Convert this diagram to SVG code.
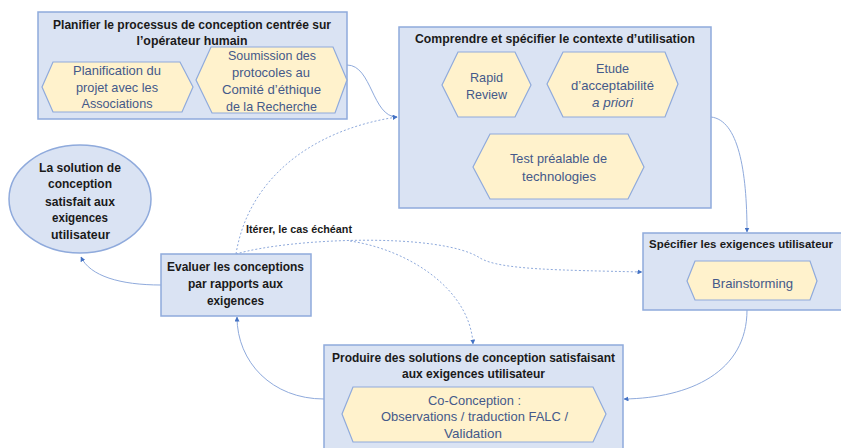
<svg xmlns="http://www.w3.org/2000/svg" width="841" height="448" viewBox="0 0 841 448">
<defs>
<marker id="arr" viewBox="0 0 10 10" refX="9" refY="5" markerWidth="5" markerHeight="5" orient="auto" markerUnits="userSpaceOnUse">
<path d="M0,0 L10,5 L0,10 z" fill="#4472c4"/>
</marker>
</defs>
<style>
.box{fill:#dae3f3;stroke:#8faadc;stroke-width:1.5}
.hex{fill:#fff2cc;stroke:#8faadc;stroke-width:1.2}
.t{font-family:"Liberation Sans",Arial,sans-serif;font-size:13px;font-weight:bold;fill:#1a1a1a;text-anchor:middle}
.h{font-family:"Liberation Sans",Arial,sans-serif;font-size:13.5px;fill:#44598a;text-anchor:middle}
.lbl{font-family:"Liberation Sans",Arial,sans-serif;font-size:11px;font-weight:bold;fill:#1a1a1a}
.c{fill:none;stroke:#8faadc;stroke-width:1}
.d{fill:none;stroke:#8faadc;stroke-width:1;stroke-dasharray:2 2}
</style>
<rect width="841" height="448" fill="#ffffff"/>

<g id="connectors">
<path class="c" d="M347,65 C372,65 372,117 397,117" marker-end="url(#arr)"/>
<path class="c" d="M711,117 C738,120 747,170 747,232" marker-end="url(#arr)"/>
<path class="c" d="M747,310 C747,372 690,398 624,399" marker-end="url(#arr)"/>
<path class="c" d="M324,399 C272,399 237,362 237,317" marker-end="url(#arr)"/>
<path class="c" d="M161,285 C120,285 90,276 81,257" marker-end="url(#arr)"/>
<path class="d" d="M236,254 C248,180 310,130 397,117" marker-end="url(#arr)"/>
<path class="d" d="M236,254 C290,238 440,232 480,258 C500,270 560,270 642,272" marker-end="url(#arr)"/>
<path class="d" d="M350,241 C410,250 470,290 473,344" marker-end="url(#arr)"/>
<text class="lbl" x="246" y="233" textLength="106" lengthAdjust="spacingAndGlyphs">Itérer, le cas échéant</text>
</g>

<g id="planifier">
<rect class="box" x="38" y="12" width="309" height="107"/>
<text class="t" x="192" y="28.5" textLength="278" lengthAdjust="spacingAndGlyphs">Planifier le processus de conception centrée sur</text>
<text class="t" x="192" y="44.5" textLength="111" lengthAdjust="spacingAndGlyphs">l’opérateur humain</text>
<g id="hex-planification">
<polygon class="hex" points="42,87 53,62 180,62 193,87 182,112 53,112"/>
<text class="h" x="117" y="74.5" textLength="88" lengthAdjust="spacingAndGlyphs">Planification du</text>
<text class="h" x="117" y="91.5" textLength="82" lengthAdjust="spacingAndGlyphs">projet avec les</text>
<text class="h" x="117" y="107.5" textLength="71" lengthAdjust="spacingAndGlyphs">Associations</text>
</g>
<g id="hex-soumission">
<polygon class="hex" points="196,80 211,47 333,47 347,80 335,113 212,113"/>
<text class="h" x="272" y="59.5" textLength="88" lengthAdjust="spacingAndGlyphs">Soumission des</text>
<text class="h" x="271" y="76.5" textLength="78" lengthAdjust="spacingAndGlyphs">protocoles au</text>
<text class="h" x="271.5" y="93.5" textLength="99" lengthAdjust="spacingAndGlyphs">Comité d’éthique</text>
<text class="h" x="271.5" y="110.5" textLength="91" lengthAdjust="spacingAndGlyphs">de la Recherche</text>
</g>
</g>

<g id="comprendre">
<rect class="box" x="399" y="27" width="312" height="181"/>
<text class="t" x="555" y="42.5" textLength="280" lengthAdjust="spacingAndGlyphs">Comprendre et spécifier le contexte d’utilisation</text>
<g id="hex-rapid">
<polygon class="hex" points="442,85 458,52 515,52 531,85 515,117 458,117"/>
<text class="h" x="486.5" y="81.5" textLength="33" lengthAdjust="spacingAndGlyphs">Rapid</text>
<text class="h" x="486.5" y="98.5" textLength="41" lengthAdjust="spacingAndGlyphs">Review</text>
</g>
<g id="hex-etude">
<polygon class="hex" points="547,84 563,52 665,52 678,84 665,117 563,117"/>
<text class="h" x="612.5" y="72.5" textLength="33" lengthAdjust="spacingAndGlyphs">Etude</text>
<text class="h" x="612.5" y="89.5" textLength="83" lengthAdjust="spacingAndGlyphs">d’acceptabilité</text>
<text class="h" x="612.5" y="106.5" font-style="italic" textLength="41" lengthAdjust="spacingAndGlyphs">a priori</text>
</g>
<g id="hex-test">
<polygon class="hex" points="473,167 490,134 628,134 644,167 628,199 490,199"/>
<text class="h" x="558.5" y="162.5" textLength="97" lengthAdjust="spacingAndGlyphs">Test préalable de</text>
<text class="h" x="559" y="180.5" textLength="74" lengthAdjust="spacingAndGlyphs">technologies</text>
</g>
</g>

<g id="specifier">
<rect class="box" x="643" y="233" width="220" height="77"/>
<text class="t" x="741" y="248" style="font-size:11px" textLength="184" lengthAdjust="spacingAndGlyphs">Spécifier les exigences utilisateur</text>
<g id="hex-brainstorming">
<polygon class="hex" points="687,281 695,261 810,261 817,281 810,300 695,300"/>
<text class="h" x="752.5" y="287.5" textLength="81" lengthAdjust="spacingAndGlyphs">Brainstorming</text>
</g>
</g>

<g id="produire">
<rect class="box" x="324" y="345" width="299" height="120"/>
<text class="t" x="473.5" y="361.5" textLength="283" lengthAdjust="spacingAndGlyphs">Produire des solutions de conception satisfaisant</text>
<text class="t" x="473.5" y="377.5" textLength="143" lengthAdjust="spacingAndGlyphs">aux exigences utilisateur</text>
<g id="hex-coconception">
<polygon class="hex" points="342,414 353,387 593,387 606,414 593,442 353,442"/>
<text class="h" x="474.5" y="404.5" textLength="93" lengthAdjust="spacingAndGlyphs">Co-Conception :</text>
<text class="h" x="474.5" y="420.5" textLength="187" lengthAdjust="spacingAndGlyphs">Observations / traduction FALC /</text>
<text class="h" x="473" y="437.5" textLength="58" lengthAdjust="spacingAndGlyphs">Validation</text>
</g>
</g>

<g id="evaluer">
<rect class="box" x="161" y="254" width="150" height="62"/>
<text class="t" x="235.5" y="270.5" textLength="137" lengthAdjust="spacingAndGlyphs">Evaluer les conceptions</text>
<text class="t" x="235.5" y="287.5" textLength="95" lengthAdjust="spacingAndGlyphs">par rapports aux</text>
<text class="t" x="235.5" y="304.5" textLength="57" lengthAdjust="spacingAndGlyphs">exigences</text>
</g>

<g id="solution">
<ellipse class="box" cx="80" cy="199" rx="71" ry="54"/>
<text class="t" x="80" y="171.5" textLength="82" lengthAdjust="spacingAndGlyphs">La solution de</text>
<text class="t" x="80" y="187.5" textLength="64" lengthAdjust="spacingAndGlyphs">conception</text>
<text class="t" x="80" y="205.5" textLength="70" lengthAdjust="spacingAndGlyphs">satisfait aux</text>
<text class="t" x="80" y="221.5" textLength="56" lengthAdjust="spacingAndGlyphs">exigences</text>
<text class="t" x="80.5" y="238.5" textLength="59" lengthAdjust="spacingAndGlyphs">utilisateur</text>
</g>
</svg>
